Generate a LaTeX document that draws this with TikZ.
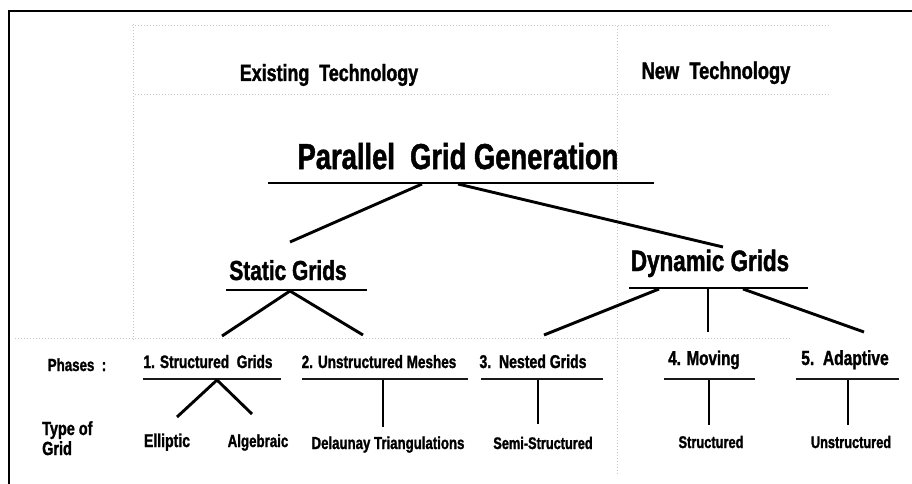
\documentclass[tikz,border=0pt]{standalone}
\usepackage{fontspec}
\newfontfamily\narrowsans[FakeStretch=0.76,FakeBold=1.4]{Liberation Sans}
\newcommand{\sz}[1]{\narrowsans\bfseries\fontsize{#1}{#1}\selectfont}
\tikzset{
  lbl/.style={inner sep=0pt, anchor=base},
  bar/.style={line width=2.9pt},
  phbar/.style={line width=2.5pt, black!90},
  link/.style={line width=2.9pt},
  faint/.style={gray!45, dotted, line width=1pt},
  frame/.style={line width=1.6pt},
}
\begin{document}
\begin{tikzpicture}[x=1pt,y=-1pt]
\useasboundingbox (0,0) rectangle (912,484);

% outer frame (top and left edges)
\draw[frame] (912,11) -- (9,11) -- (9,484);

% faint dotted region boxes
\draw[faint] (132,26) -- (830,26);
\draw[faint] (135,95) -- (830,95);
\draw[faint] (133,24) -- (133,342);
\draw[faint] (617,26) -- (617,474);
\draw[faint] (15,338) -- (790,338);

% headings
\node[lbl, font=\sz{23.5}] (exist) at (329,81) {Existing\ \ Technology};
\node[lbl, font=\sz{24}] (newtech) at (716,79) {New\ \ Technology};

% root
\node[lbl, font=\sz{36}] (pgg) at (458,169) {Parallel\ \ Grid Generation};
\coordinate (pgg-l) at (268,183);
\coordinate (pgg-r) at (654,183);
\draw[bar] (pgg-l) -- (pgg-r);
\coordinate (pgg-a) at (422,184);
\coordinate (pgg-b) at (458,184);

% second level
\node[lbl, font=\sz{27.5}] (static) at (288,280) {Static Grids};
\coordinate (static-l) at (226,290);
\coordinate (static-r) at (367,290);
\draw[bar] (static-l) -- (static-r);
\coordinate (static-top) at (290,242);
\coordinate (static-a) at (290,291);

\node[lbl, font=\sz{29.5}] (dynamic) at (710,271) {Dynamic Grids};
\coordinate (dynamic-l) at (629,288);
\coordinate (dynamic-r) at (808,288);
\draw[bar] (dynamic-l) -- (dynamic-r);
\coordinate (dynamic-top) at (723,247);
\coordinate (dynamic-a) at (659,289);
\coordinate (dynamic-b) at (708,289);
\coordinate (dynamic-c) at (743,289);

\draw[link] (pgg-a) -- (static-top);
\draw[link] (pgg-b) -- (dynamic-top);

% phases
\node[lbl, font=\sz{17.5}] (phases) at (77,371) {Phases\ \ :};
\node[lbl, font=\sz{18}] (ph1) at (208,368) {1. Structured\ \ Grids};
\node[lbl, font=\sz{17.8}] (ph2) at (379,368) {2. Unstructured Meshes};
\node[lbl, font=\sz{18.5}] (ph3) at (533,368) {3.\ \ Nested Grids};
\node[lbl, font=\sz{20}] (ph4) at (704,365) {4. Moving};
\node[lbl, font=\sz{20.5}] (ph5) at (845,365) {5.\ \ Adaptive};

\coordinate (ph1-l) at (143,379); \coordinate (ph1-r) at (281,379);
\coordinate (ph2-l) at (302,379); \coordinate (ph2-r) at (468,379);
\coordinate (ph3-l) at (481,379); \coordinate (ph3-r) at (603,379);
\coordinate (ph4-l) at (664,379); \coordinate (ph4-r) at (755,379);
\coordinate (ph5-l) at (796,379); \coordinate (ph5-r) at (899,379);
\foreach \p in {ph1,ph2,ph3,ph4,ph5}
  \draw[phbar] (\p-l) -- (\p-r);

\coordinate (ph1-top) at (222,336);
\coordinate (ph2-top) at (363,335);
\coordinate (ph3-top) at (544,335);
\coordinate (ph4-top) at (708,332);
\coordinate (ph5-top) at (864,332);

\draw[link] (static-a) -- (ph1-top);
\draw[link] (static-a) -- (ph2-top);
\draw[link] (dynamic-a) -- (ph3-top);
\draw[link] (dynamic-b) -- (ph4-top);
\draw[link] (dynamic-c) -- (ph5-top);

% grid types
\node[lbl, font=\sz{19}, anchor=base west] (type1) at (42,435) {Type of};
\node[lbl, font=\sz{19}, anchor=base west] (type2) at (42,455) {Grid};

\node[lbl, font=\sz{18.5}] (ellip) at (167,447) {Elliptic};
\node[lbl, font=\sz{17.5}] (alg) at (258,447) {Algebraic};
\node[lbl, font=\sz{17.4}] (delau) at (388,449) {Delaunay Triangulations};
\node[lbl, font=\sz{16.8}] (semi) at (543,449) {Semi-Structured};
\node[lbl, font=\sz{16.9}] (struc) at (711,448) {Structured};
\node[lbl, font=\sz{16.8}] (unstr) at (851,448) {Unstructured};

\coordinate (ph1-a) at (217,380);
\coordinate (ellip-top) at (177,417);
\coordinate (alg-top) at (252,414);
\coordinate (ph2-a) at (383,380);
\coordinate (delau-top) at (383,427);
\coordinate (ph3-a) at (538,380);
\coordinate (semi-top) at (538,424);
\coordinate (ph4-a) at (709,380);
\coordinate (struc-top) at (709,425);
\coordinate (ph5-a) at (848,380);
\coordinate (unstr-top) at (848,425);

\draw[link] (ph1-a) -- (ellip-top);
\draw[link] (ph1-a) -- (alg-top);
\draw[link] (ph2-a) -- (delau-top);
\draw[link] (ph3-a) -- (semi-top);
\draw[link] (ph4-a) -- (struc-top);
\draw[link] (ph5-a) -- (unstr-top);
\end{tikzpicture}
\end{document}
